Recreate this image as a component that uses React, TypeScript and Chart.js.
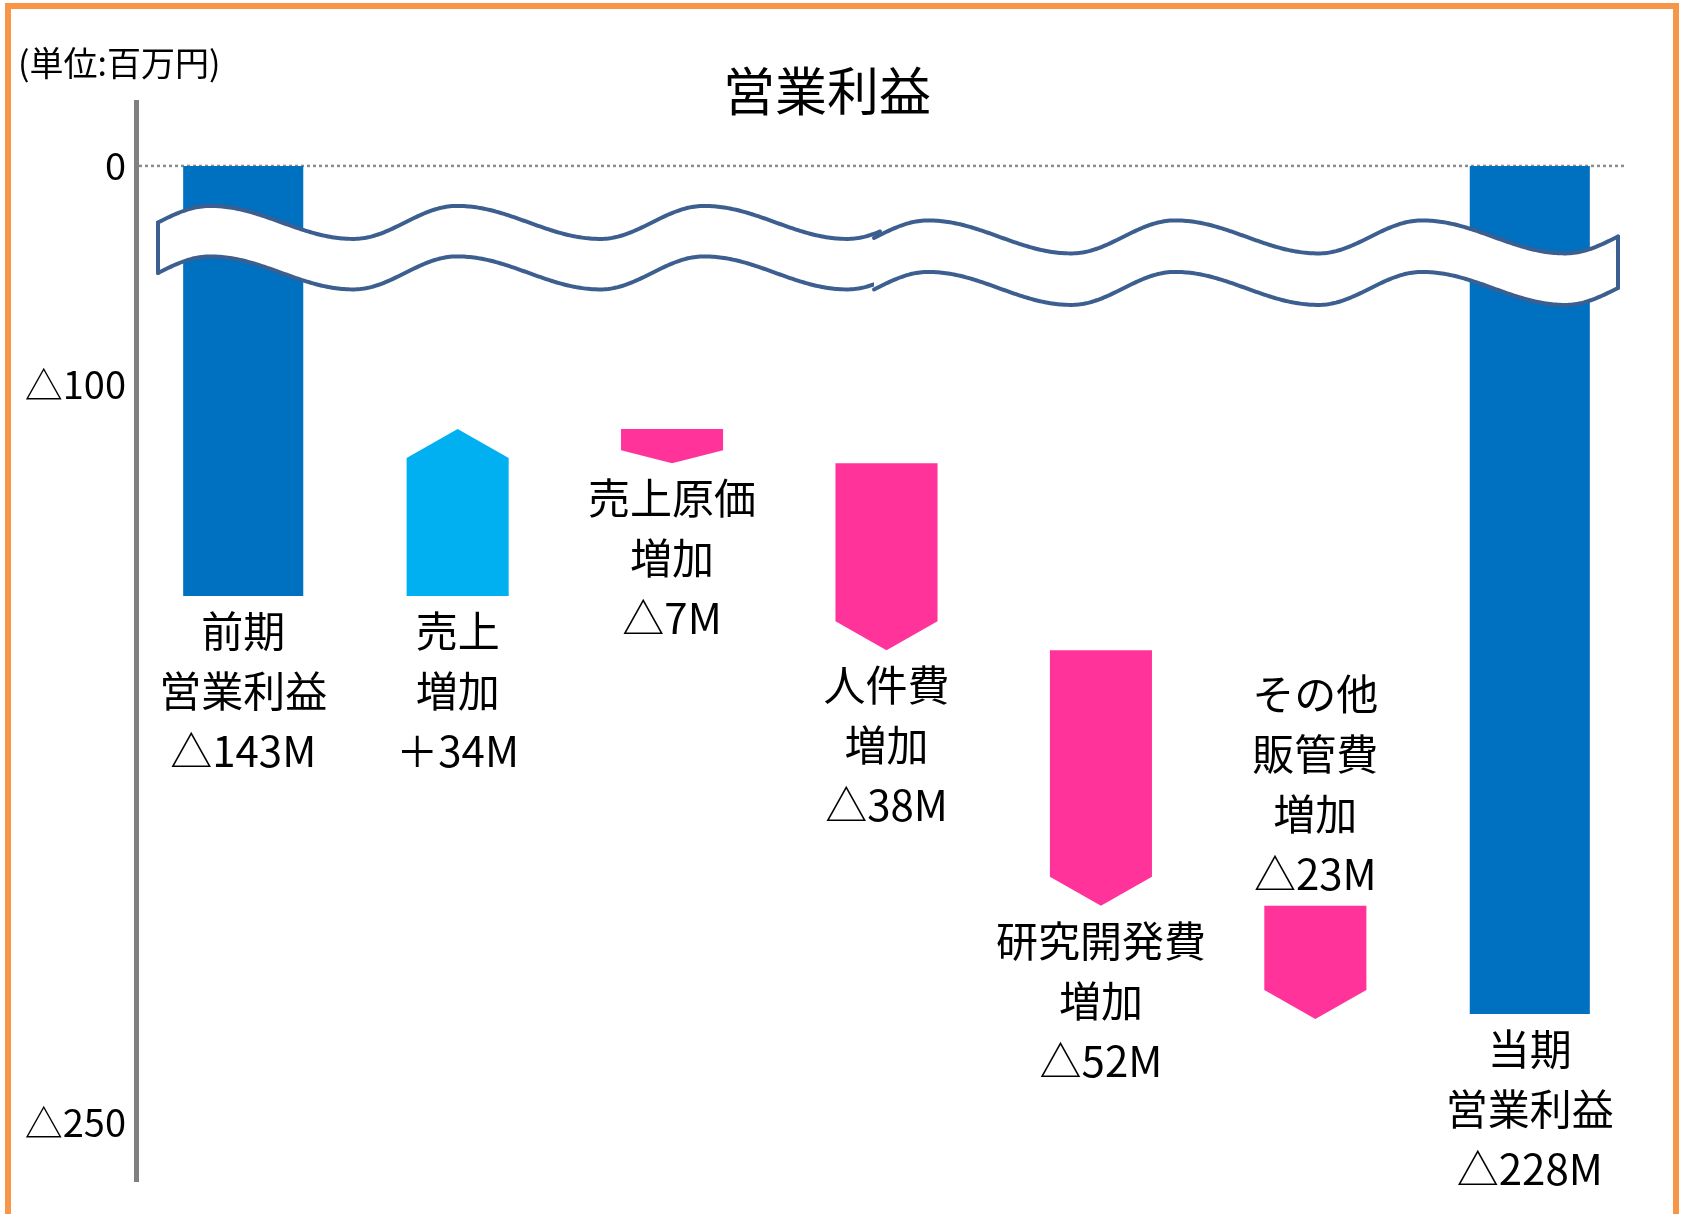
import React, { useEffect, useRef } from 'react';
import { Chart, registerables } from 'chart.js';

Chart.register(...registerables);

// ---------- data ----------
const categories = ['前期営業利益', '売上増加', '売上原価増加', '人件費増加', '研究開発費増加', 'その他販管費増加', '当期営業利益'];
const categoryLines = [
  ['前期', '営業利益'],
  ['売上', '増加'],
  ['売上原価', '増加'],
  ['人件費', '増加'],
  ['研究開発費', '増加'],
  ['その他', '販管費', '増加'],
  ['当期', '営業利益'],
];
const valueLabels = ['△143M', '＋34M', '△7M', '△38M', '△52M', '△23M', '△228M'];
const previousProfit = -143;
const changes = [34, -7, -38, -52, -23];
const currentProfit = -228;
const yTickValues = [0, -100, -250];
const yTickLabels = ['0', '△100', '△250'];
const chartTitle = '営業利益';
const unitLabel = '(単位:百万円)';

// ---------- style ----------
const FONT = '"Noto Sans CJK JP", "Noto Sans", sans-serif';
const TOTAL_COLOR = '#0070C0';
const UP_COLOR = '#00B0F0';
const DOWN_COLOR = '#FF3399';
const WAVE_COLOR = '#3C5F90';
const FRAME_COLOR = '#F79646';
const labelAboveBar = [false, false, false, false, false, true, false];

// axis break: values above BREAK are compressed
const BREAK = -100;
const COMPRESS = 0.445;
const toAxis = (v: number) => (v >= BREAK ? BREAK + (v - BREAK) * COMPRESS : v);

const n = categories.length;
const totalsData = categories.map((_, i) => {
  if (i === 0) return [toAxis(0), toAxis(previousProfit)];
  if (i === n - 1) return [toAxis(0), toAxis(currentProfit)];
  return null;
});
let running = previousProfit;
const changesData = categories.map((_, i) => {
  if (i === 0 || i === n - 1) return null;
  const start = running;
  running += changes[i - 1];
  return [toAxis(start), toAxis(running)];
});
const changeColors = categories.map((_, i) =>
  i > 0 && i < n - 1 ? (changes[i - 1] >= 0 ? UP_COLOR : DOWN_COLOR) : 'transparent'
);

function makeWave(peak0: number, mid: number, amp: number, period: number) {
  return (x: number) => {
    let p = ((x - peak0) / period) % 1;
    if (p < 0) p += 1;
    const split = 0.58;
    const th = p < split ? (Math.PI * p) / split : Math.PI + (Math.PI * (p - split)) / (1 - split);
    return mid - amp * Math.cos(th);
  };
}

function tracePath(ctx: CanvasRenderingContext2D, yAt: (x: number) => number, x0: number, x1: number, forward: boolean, startNew: boolean) {
  const steps = Math.ceil(Math.abs(x1 - x0) / 2);
  for (let s = 0; s <= steps; s++) {
    const x = forward ? x0 + ((x1 - x0) * s) / steps : x1 - ((x1 - x0) * s) / steps;
    const y = yAt(x);
    if (s === 0 && startNew) ctx.moveTo(x, y);
    else ctx.lineTo(x, y);
  }
}

const decorPlugin = {
  id: 'decor',
  beforeDatasetsDraw(chart: any) {
    const { ctx, chartArea, scales } = chart;
    const y0 = scales.y.getPixelForValue(toAxis(0));
    ctx.save();
    ctx.strokeStyle = '#8C8C8C';
    ctx.lineWidth = 2.5;
    ctx.setLineDash([3, 3]);
    ctx.beginPath();
    ctx.moveTo(chartArea.left + 3, y0);
    ctx.lineTo(chartArea.right - 12, y0);
    ctx.stroke();
    ctx.restore();
  },
  afterDatasetsDraw(chart: any) {
    const { ctx, chartArea, scales } = chart;
    // arrows
    const meta = chart.getDatasetMeta(1);
    ctx.save();
    meta.data.forEach((el: any, i: number) => {
      const d = changesData[i];
      if (!d) return;
      const { x, width } = el.getProps(['x', 'width'], true);
      const base = scales.y.getPixelForValue(d[0]);
      const y = scales.y.getPixelForValue(d[1]);
      const len = Math.abs(y - base);
      const dir = y < base ? -1 : 1;
      const head = Math.min(29, len * 0.38);
      ctx.fillStyle = changeColors[i];
      ctx.beginPath();
      ctx.moveTo(x - width / 2, base);
      ctx.lineTo(x - width / 2, y - dir * head);
      ctx.lineTo(x, y);
      ctx.lineTo(x + width / 2, y - dir * head);
      ctx.lineTo(x + width / 2, base);
      ctx.closePath();
      ctx.fill();
    });
    ctx.restore();

    // wave (axis break)
    const y0 = scales.y.getPixelForValue(toAxis(0));
    const L = chartArea.left;
    const pieces = [
      { x0: L + 22, x1: L + 744, peak0: L + 74, mid: y0 + 56.5, gap: 50.5 },
      { x0: L + 738, x1: L + 1482, peak0: L + 792, mid: y0 + 71, gap: 51.5 },
    ];
    ctx.save();
    pieces.forEach((pc, idx) => {
      const top = makeWave(pc.peak0, pc.mid, 16.5, 247);
      const bot = makeWave(pc.peak0, pc.mid + pc.gap, 16.5, 247);
      ctx.beginPath();
      tracePath(ctx, top, pc.x0, pc.x1, true, true);
      tracePath(ctx, bot, pc.x0, pc.x1, false, false);
      ctx.closePath();
      ctx.fillStyle = '#FFFFFF';
      ctx.fill();
      ctx.strokeStyle = WAVE_COLOR;
      ctx.lineWidth = 4;
      ctx.lineJoin = 'round';
      ctx.lineCap = 'round';
      ctx.beginPath();
      tracePath(ctx, top, pc.x0, pc.x1, true, true);
      ctx.stroke();
      ctx.beginPath();
      tracePath(ctx, bot, pc.x0, pc.x1, true, true);
      ctx.stroke();
      const ex = idx === 0 ? pc.x0 : pc.x1;
      ctx.beginPath();
      ctx.moveTo(ex, top(ex));
      ctx.lineTo(ex, bot(ex));
      ctx.stroke();
    });
    ctx.restore();
  },
  afterDraw(chart: any) {
    const { ctx, canvas } = chart;
    const m0 = chart.getDatasetMeta(0);
    const m1 = chart.getDatasetMeta(1);
    ctx.save();
    ctx.fillStyle = '#000000';
    ctx.textAlign = 'center';
    ctx.textBaseline = 'middle';
    ctx.font = `42px ${FONT}`;
    const lh = 60;
    categories.forEach((_, i) => {
      const el = totalsData[i] ? m0.data[i] : m1.data[i];
      const { x, y, base } = el.getProps(['x', 'y', 'base'], true);
      const lines = [...categoryLines[i], valueLabels[i]];
      if (labelAboveBar[i]) {
        const top = Math.min(y, base);
        lines.forEach((t, k) => {
          ctx.fillText(t, x, top - 32 - (lines.length - 1 - k) * lh);
        });
      } else {
        const bottom = Math.max(y, base);
        lines.forEach((t, k) => {
          ctx.fillText(t, x, bottom + 35 + k * lh);
        });
      }
    });
    // title
    ctx.font = `52px ${FONT}`;
    ctx.fillText(chartTitle, 827, 91);
    // unit
    ctx.textAlign = 'left';
    ctx.font = `34px ${FONT}`;
    ctx.fillText(unitLabel, 18, 63);
    // frame
    ctx.strokeStyle = FRAME_COLOR;
    ctx.lineWidth = 6;
    ctx.beginPath();
    ctx.moveTo(8, canvas.height + 10);
    ctx.lineTo(8, 6);
    ctx.lineTo(1676, 6);
    ctx.lineTo(1676, canvas.height + 10);
    ctx.stroke();
    ctx.restore();
  },
};

export default function App() {
  const ref = useRef<HTMLCanvasElement>(null);
  useEffect(() => {
    if (!ref.current) return;
    const chart = new Chart(ref.current, {
      type: 'bar',
      data: {
        labels: categories,
        datasets: [
          {
            label: 'totals',
            data: totalsData as any,
            backgroundColor: TOTAL_COLOR,
            borderWidth: 0,
            barPercentage: 0.56,
            categoryPercentage: 1,
            grouped: false,
          },
          {
            label: 'changes',
            data: changesData as any,
            backgroundColor: 'transparent',
            borderWidth: 0,
            barPercentage: 0.476,
            categoryPercentage: 1,
            grouped: false,
          },
        ],
      },
      options: {
        responsive: false,
        animation: false,
        events: [],
        layout: { padding: { left: 0, right: 48, top: 102, bottom: 28 } },
        plugins: { legend: { display: false }, title: { display: false }, tooltip: { enabled: false } },
        scales: {
          x: { display: false, offset: true },
          y: {
            min: -262,
            max: -42.5,
            afterFit: (scale: any) => {
              scale.width = 136;
            },
            afterBuildTicks: (scale: any) => {
              scale.ticks = yTickValues.map((v) => ({ value: toAxis(v) }));
            },
            grid: { display: false, drawTicks: false },
            border: { display: true, color: '#808080', width: 5 },
            ticks: {
              padding: 10,
              color: '#000000',
              font: { size: 38, family: FONT },
              callback: (value: any) => {
                const idx = yTickValues.findIndex((v) => Math.abs(toAxis(v) - Number(value)) < 1e-6);
                return idx >= 0 ? yTickLabels[idx] : '';
              },
            },
          },
        },
      },
      plugins: [decorPlugin],
    });
    return () => chart.destroy();
  }, []);
  return (
    <div style={{ position: 'absolute', left: 0, top: 0, width: 1685, height: 1214, background: '#fff' }}>
      <canvas ref={ref} width={1685} height={1214} />
    </div>
  );
}
